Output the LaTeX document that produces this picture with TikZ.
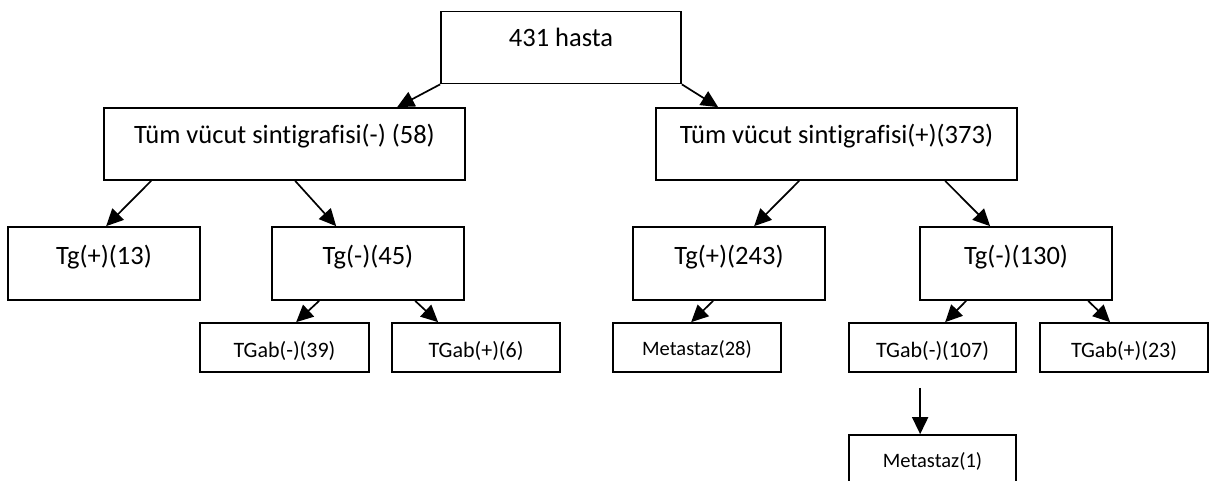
\documentclass[tikz,border=0pt]{standalone}
\usepackage{fontspec}
\setmainfont{Carlito}[Ligatures=NoCommon]
\usetikzlibrary{arrows.meta}

\begin{document}
\begin{tikzpicture}[x=1pt, y=-1pt]
    \tikzstyle{box} = [draw, line width=1.7pt, inner sep=0pt, rectangle]
    \tikzstyle{big} = [box, font=\fontsize{26.5}{30}\selectfont, text height=35pt, text depth=37pt]
    \tikzstyle{small} = [box, font=\fontsize{22}{26}\selectfont, text height=34pt, text depth=15pt, minimum height=49pt]
    \tikzstyle{meta} = [box, font=\fontsize{20.5}{24}\selectfont, text height=32pt, text depth=17pt, minimum height=49pt]
    \tikzstyle{arr} = [line width=1.7pt, -{Triangle[length=17pt, width=16pt]}]

    \useasboundingbox (0, 0) rectangle (1219, 480);

    \node[big, minimum width=240pt] (hasta) at (561, 47.5) {431 hasta};
    \node[big, minimum width=361pt] (tvsneg) at (284.5, 144) {Tüm vücut sintigrafisi(-) (58)};
    \node[big, minimum width=361pt] (tvspos) at (836.5, 144) {Tüm vücut sintigrafisi(+)(373)};

    \node[big, minimum width=192pt, text height=37pt, text depth=36pt] (tgpos13) at (104, 263.5) {Tg(+)(13)};
    \node[big, minimum width=192pt, text height=37pt, text depth=36pt] (tgneg45) at (368, 263.5) {Tg(-)(45)};
    \node[big, minimum width=192pt, text height=37pt, text depth=36pt] (tgpos243) at (729, 263.5) {Tg(+)(243)};
    \node[big, minimum width=192pt, text height=37pt, text depth=36pt] (tgneg130) at (1016, 263.5) {Tg(-)(130)};

    \node[small, minimum width=169pt] (abneg39) at (284.5, 347.5) {TGab(-)(39)};
    \node[small, minimum width=168pt] (abpos6) at (476, 347.5) {TGab(+)(6)};
    \node[meta, minimum width=168pt] (meta28) at (697, 347.5) {Metastaz(28)};
    \node[small, minimum width=167pt] (abneg107) at (932.5, 347.5) {TGab(-)(107)};
    \node[small, minimum width=168pt] (abpos23) at (1124, 347.5) {TGab(+)(23)};
    \node[meta, minimum width=167pt, text depth=20pt] (meta1) at (932.5, 461) {Metastaz(1)};

    \draw[arr] (hasta.south west) -- ([xshift=294pt]tvsneg.north west);
    \draw[arr] (hasta.south east) -- ([xshift=63pt]tvspos.north west);

    \draw[arr] ([xshift=48pt]tvsneg.south west) -- ([xshift=99pt]tgpos13.north west);
    \draw[arr] ([xshift=192pt]tvsneg.south west) -- ([xshift=65pt]tgneg45.north west);
    \draw[arr] ([xshift=144pt]tvspos.south west) -- ([xshift=122pt]tgpos243.north west);
    \draw[arr] ([xshift=290pt]tvspos.south west) -- ([xshift=71pt]tgneg130.north west);

    \draw[arr] ([xshift=48pt]tgneg45.south west) -- ([xshift=97pt]abneg39.north west);
    \draw[arr] ([xshift=144pt]tgneg45.south west) -- ([xshift=47pt]abpos6.north west);
    \draw[arr] ([xshift=81pt]tgpos243.south west) -- ([xshift=79pt]meta28.north west);
    \draw[arr] ([xshift=47pt]tgneg130.south west) -- ([xshift=97pt]abneg107.north west);
    \draw[arr] ([xshift=169pt]tgneg130.south west) -- ([xshift=71pt]abpos23.north west);
    \draw[arr] ([xshift=72pt, yshift=-15pt]abneg107.south west) -- ([xshift=72pt]meta1.north west);
\end{tikzpicture}
\end{document}
